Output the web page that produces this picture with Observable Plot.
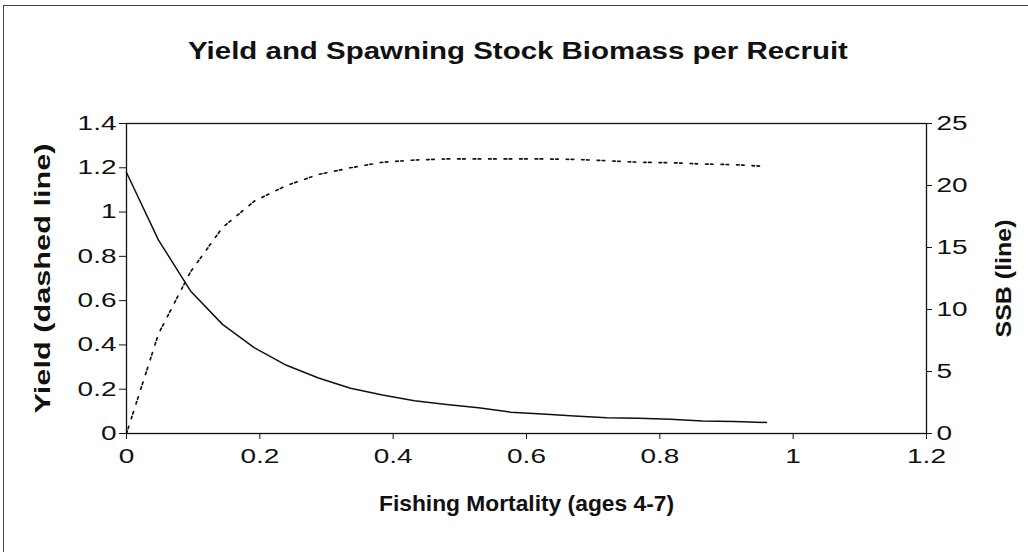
<!DOCTYPE html>
<html>
<head>
<meta charset="utf-8">
<script src="https://cdn.jsdelivr.net/npm/d3@7"></script>
<script src="https://cdn.jsdelivr.net/npm/@observablehq/plot@0.6"></script>
<style>
  body { margin: 0; background: #fff; }
  #wrap { position: relative; width: 1028px; height: 552px; overflow: hidden; background: #fff; }
  #frame { position: absolute; left: 3px; top: 5px; width: 1100px; height: 700px; border-left: 1.5px solid #444; border-top: 1.5px solid #444; }
  #title { position: absolute; left: 518px; top: 40px; margin: 0; font: bold 23px/23px "Liberation Sans", Arial, sans-serif; color: #111; white-space: nowrap; transform: translateX(-50%) scaleX(1.28); transform-origin: 50% 50%; }
  #chart { position: absolute; left: 0; top: 80px; }
</style>
</head>
<body>
<div id="wrap">
  <div id="frame"></div>
  <div id="title">Yield and Spawning Stock Biomass per Recruit</div>
  <div id="chart"></div>
</div>
<script>
// Fishing mortality (ages 4-7)
const fishingMortality = [0, 0.048, 0.096, 0.144, 0.192, 0.24, 0.288, 0.336, 0.384, 0.432, 0.48,
  0.528, 0.576, 0.624, 0.672, 0.72, 0.768, 0.816, 0.864, 0.912, 0.96];
// Yield per recruit (left axis, dashed line)
const yieldPerRecruit = [0, 0.45, 0.73, 0.93, 1.05, 1.12, 1.17, 1.20, 1.225, 1.235, 1.24,
  1.24, 1.24, 1.24, 1.238, 1.232, 1.225, 1.223, 1.217, 1.214, 1.206];
// Spawning stock biomass per recruit (right axis, solid line)
const ssbPerRecruit = [21.05, 15.6, 11.5, 8.8, 6.9, 5.5, 4.48, 3.65, 3.1, 2.64, 2.33,
  2.07, 1.72, 1.57, 1.42, 1.28, 1.22, 1.14, 1.0, 0.96, 0.89];

const xTicks = [0, 0.2, 0.4, 0.6, 0.8, 1, 1.2];
const yieldTicks = [0, 0.2, 0.4, 0.6, 0.8, 1, 1.2, 1.4];
const ssbTicks = [0, 5, 10, 15, 20, 25];

const yieldMax = 1.4, ssbMax = 25;
const ssbToLeft = s => s * yieldMax / ssbMax;
const fmt = d => String(+d.toFixed(2));

const yieldData = fishingMortality.map((f, i) => ({f, v: yieldPerRecruit[i]}));
const ssbData = fishingMortality.map((f, i) => ({f, v: ssbToLeft(ssbPerRecruit[i])}));

const plot = Plot.plot({
  width: 1028,
  height: 472,
  marginTop: 43,
  marginBottom: 119,
  marginLeft: 126,
  marginRight: 102,
  style: {fontFamily: "'Liberation Sans', Arial, sans-serif", fontSize: "20px", color: "#111", background: "transparent", overflow: "visible"},
  x: {domain: [0, 1.2]},
  y: {domain: [0, yieldMax]},
  marks: [
    Plot.frame({stroke: "#111", strokeWidth: 1.3}),
    Plot.axisX(xTicks, {tickSize: 6, tickPadding: 9, tickFormat: fmt, label: "Fishing Mortality (ages 4-7)", labelAnchor: "center", labelArrow: "none", labelOffset: 77}),
    Plot.axisY(yieldTicks, {anchor: "left", tickSize: 7, tickPadding: 3, tickFormat: fmt, label: "Yield (dashed line)", labelAnchor: "center", labelArrow: "none", labelOffset: 92}),
    Plot.axisY(ssbTicks.map(ssbToLeft), {anchor: "right", tickSize: 5, tickPadding: 5, tickFormat: d => String(Math.round(d * ssbMax / yieldMax)), label: "SSB (line)", labelAnchor: "center", labelArrow: "none", labelOffset: 84}),
    Plot.line(yieldData, {x: "f", y: "v", stroke: "#111", strokeWidth: 1.7, strokeDasharray: "2.5,2.5,2.5,8"}),
    Plot.line(ssbData, {x: "f", y: "v", stroke: "#111", strokeWidth: 1.5})
  ]
});
document.getElementById("chart").appendChild(plot);

// widen the glyphs like the scanned original
plot.querySelectorAll('g[aria-label$="tick label"] text').forEach(t => {
  const L = t.getComputedTextLength();
  t.setAttribute("textLength", (L * 1.4).toFixed(1));
  t.setAttribute("lengthAdjust", "spacingAndGlyphs");
});
const labelLengths = {"Fishing Mortality (ages 4-7)": 295, "Yield (dashed line)": 270, "SSB (line)": 118};
plot.querySelectorAll('g[aria-label$="axis label"] text').forEach(t => {
  t.setAttribute("font-weight", "bold");
  t.setAttribute("font-size", "22");
  const target = labelLengths[t.textContent.trim()];
  if (target) {
    t.setAttribute("textLength", target);
    t.setAttribute("lengthAdjust", "spacingAndGlyphs");
  }
});
</script>
</body>
</html>
